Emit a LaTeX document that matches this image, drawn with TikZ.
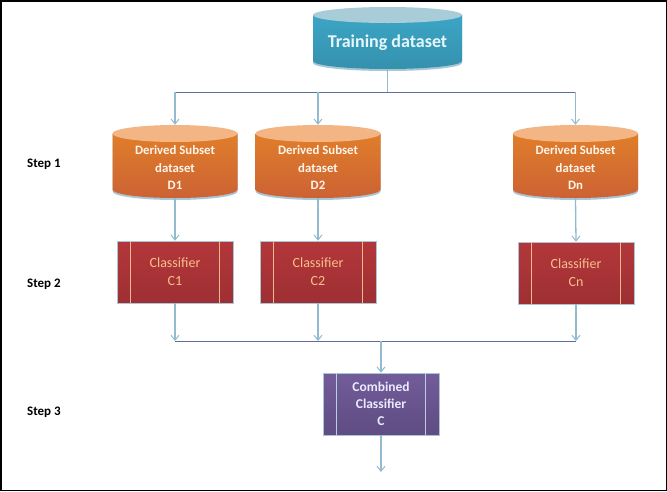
\documentclass[tikz,border=0pt]{standalone}
\usepackage{fontspec}
\setmainfont{Carlito}
\usetikzlibrary{arrows.meta}
\definecolor{trainbody}{HTML}{3CA5C5}
\definecolor{traintop}{HTML}{A8CCD8}
\definecolor{derbody}{HTML}{E07E2A}
\definecolor{dertop}{HTML}{F4B585}
\definecolor{derdark}{HTML}{CC6234}
\definecolor{clsfill}{HTML}{B3373A}
\definecolor{clsdark}{HTML}{9E2F33}
\definecolor{clsline}{HTML}{F2B98A}
\definecolor{clstext}{HTML}{F8C08B}
\definecolor{combfill}{HTML}{725C9A}
\definecolor{combdark}{HTML}{5F4C82}
\definecolor{combline}{HTML}{B7D0DC}
\definecolor{conn}{HTML}{93BBD0}
\definecolor{hconn}{HTML}{5E6E9E}
\definecolor{shadowblue}{HTML}{A9C6D6}
% #1 name, #2 cx, #3 top y, #4 bottom y, #5 half width, #6 ry, #7 body, #8 top, #9 dark
\newcommand\mycyl[9]{%
  \fill[shadowblue] (#2-#5,#3+#6) -- (#2-#5,#4-#6+2) arc[start angle=180,end angle=360,x radius=#5pt,y radius=#6pt] -- (#2+#5,#3+#6) -- cycle;
  \shade[top color=#7, middle color=#7, bottom color=#9] (#2-#5,#3+#6) -- (#2-#5,#4-#6) arc[start angle=180,end angle=360,x radius=#5pt,y radius=#6pt] -- (#2+#5,#3+#6) -- cycle;
  \fill[#8] (#2,#3+#6) ellipse[x radius=#5pt, y radius=#6pt];
  \node[inner sep=0pt, minimum width={2*#5*1pt}, minimum height={(#4-#3)*1pt}] (#1) at (#2,{(#3+#4)/2}) {};
}
\tikzset{
  steplabel/.style={font=\fontsize{13}{15}\selectfont\bfseries, text=black, anchor=west, inner sep=0pt},
  dertext/.style={font=\fontsize{12.8}{17.5}\selectfont\bfseries, text=white!92!orange, align=center, inner sep=0pt},
  clsbox/.style={rectangle, minimum width=116pt, minimum height=62pt, inner sep=0pt,
    top color=clsfill, middle color=clsfill, bottom color=clsdark, draw=shadowblue, line width=0.6pt,
    font=\fontsize{14}{18}\selectfont, text=clstext, align=center},
  combbox/.style={rectangle, minimum width=116pt, minimum height=62pt, inner sep=0pt,
    top color=combfill, middle color=combfill, bottom color=combdark, draw=shadowblue, line width=0.6pt,
    font=\fontsize{13.5}{17}\selectfont\bfseries, text=white!92!blue, align=center},
  arr/.style={draw=conn, line width=1.3pt, -{Straight Barb[length=5pt,width=8pt,line width=1pt]}},
  plain/.style={draw=conn, line width=1.3pt},
  hline/.style={draw=hconn, line width=0.8pt},
}
\begin{document}
\begin{tikzpicture}[x=1pt,y=-1pt]
\useasboundingbox (0,0) rectangle (667,491);
\fill[white] (0,0) rectangle (667,491);
\draw[black, line width=1.5pt] (0.75,0.75) rectangle (666.25,490.25);

% cylinders
\mycyl{train}{387.5}{7}{69}{74.5}{8}{trainbody}{traintop}{trainbody!88!black}
\node[font=\fontsize{18}{20}\selectfont\bfseries, text=white!90!cyan, inner sep=0pt] (traintxt) at (387.5,43) {Training dataset};

\mycyl{d1}{175}{125}{198}{62.5}{8.5}{derbody}{dertop}{derdark}
\mycyl{d2}{318}{125}{198}{62.5}{8.5}{derbody}{dertop}{derdark}
\mycyl{dn}{575.5}{125}{198}{62.5}{8.5}{derbody}{dertop}{derdark}
\node[dertext] (d1t) at (175,168) {Derived Subset\\dataset\\D1};
\node[dertext] (d2t) at (318,168) {Derived Subset\\dataset\\D2};
\node[dertext] (dnt) at (575.5,168) {Derived Subset\\dataset\\Dn};

% classifiers
\node[clsbox] (c1) at (175,272) {Classifier\\C1};
\node[clsbox] (c2) at (318,272) {Classifier\\C2};
\node[clsbox] (cn) at (576,273) {Classifier\\Cn};
\foreach \n in {c1,c2,cn}{
  \draw[clsline, line width=1pt] ([xshift=14pt]\n.north west) -- ([xshift=14pt]\n.south west);
  \draw[clsline, line width=1pt] ([xshift=-14pt]\n.north east) -- ([xshift=-14pt]\n.south east);
}
\node[combbox] (comb) at (381,404) {Combined\\Classifier\\C};
\draw[combline, line width=1pt] ([xshift=14pt]comb.north west) -- ([xshift=14pt]comb.south west);
\draw[combline, line width=1pt] ([xshift=-14pt]comb.north east) -- ([xshift=-14pt]comb.south east);

% step labels
\node[steplabel] (s1) at (27,164) {Step 1};
\node[steplabel] (s2) at (27,284) {Step 2};
\node[steplabel] (s3) at (27,412) {Step 3};

% connectors top
\coordinate (t0) at (387.5,92);
\coordinate (t1) at (175,92);
\coordinate (t2) at (318,92);
\coordinate (t3) at (575.5,92);
\draw[plain] (train.south) -- (t0);
\draw[hline] (t1) -- (t3);
\draw[arr] (t1) -- (d1.north);
\draw[arr] (t2) -- (d2.north);
\draw[arr] (t3) -- (dn.north);

\draw[arr] (d1.south) -- (c1.north);
\draw[arr] (d2.south) -- (c2.north);
\draw[arr] (dn.south) -- (cn.north);

% connectors bottom
\coordinate (b1) at (175,341);
\coordinate (b2) at (318,341);
\coordinate (b3) at (576,341);
\coordinate (bm) at (381,341);
\coordinate (out) at (381,472);
\draw[hline] (b1) -- (b3);
\draw[arr] (c1.south) -- (b1);
\draw[arr] (c2.south) -- (b2);
\draw[arr] (cn.south) -- (b3);
\draw[arr] (bm) -- (comb.north);
\draw[arr] (comb.south) -- (out);
\end{tikzpicture}
\end{document}
